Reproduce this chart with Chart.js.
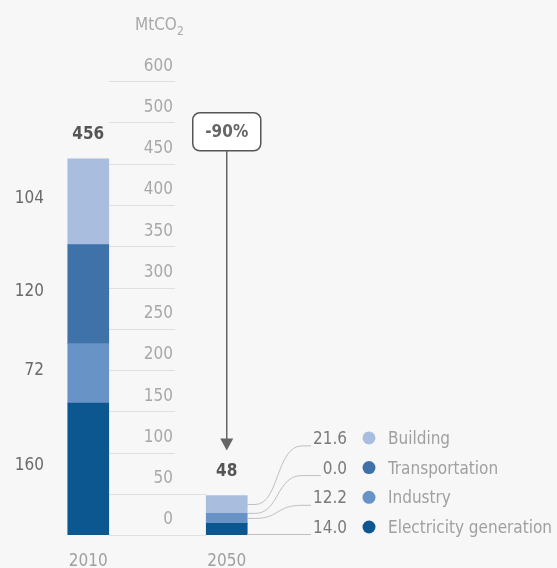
<!DOCTYPE html>
<html>
<head>
<meta charset="utf-8">
<script src="https://cdn.jsdelivr.net/npm/chart.js@4"></script>
<style>
  html, body { margin: 0; padding: 0; background: #f7f7f7; }
</style>
</head>
<body>
<canvas id="co2-chart" width="557" height="568"></canvas>
<script>
const years = ['2010', '2050'];
const sectors = ['Electricity generation', 'Industry', 'Transportation', 'Building'];
const electricity = [160, 14.0];
const industry = [72, 12.2];
const transportation = [120, 0.0];
const building = [104, 21.6];
const totals = ['456', '48'];
const yTicks = [0, 50, 100, 150, 200, 250, 300, 350, 400, 450, 500, 550];
const yTickLabels = ['0', '50', '100', '150', '200', '250', '300', '350', '400', '450', '500', '600'];
const changeLabel = '-90%';
const unitLabel = 'MtCO';

const colors = ['#0d5791', '#6893c6', '#3e72a9', '#a9bedf'];
const FONT = '"DejaVu Sans Condensed", "Liberation Sans Narrow", sans-serif';

function font(size, bold) {
  return (bold ? 'bold ' : '') + size + 'px ' + FONT;
}

const decor = {
  id: 'decor',
  beforeDatasetsDraw(chart) {
    const { ctx, scales: { y } } = chart;
    const bars = chart.getDatasetMeta(0).data;
    const x1 = bars[0].x + bars[0].width / 2;
    const x2 = bars[1].x - bars[1].width / 2;
    ctx.save();
    ctx.strokeStyle = '#e0e0e0';
    ctx.lineWidth = 1;
    yTicks.forEach(v => {
      const py = Math.round(y.getPixelForValue(v)) + 0.5;
      ctx.beginPath();
      ctx.moveTo(x1, py);
      ctx.lineTo(v <= 50 ? x2 : 175, py);
      ctx.stroke();
    });
    ctx.restore();
  },
  afterDatasetsDraw(chart) {
    const { ctx, scales: { x, y } } = chart;
    const y0 = y.getPixelForValue(0);
    ctx.save();

    // y tick labels sit above their grid lines
    ctx.font = font(17);
    ctx.fillStyle = '#a8a8a8';
    ctx.textAlign = 'right';
    ctx.textBaseline = 'middle';
    yTicks.forEach((v, i) => {
      ctx.fillText(yTickLabels[i], 173, y.getPixelForValue(v) - 15);
    });

    // unit
    ctx.textAlign = 'left';
    ctx.textBaseline = 'alphabetic';
    ctx.fillText(unitLabel, 135, 30);
    const uw = ctx.measureText(unitLabel).width;
    ctx.font = font(12);
    ctx.fillText('2', 135 + uw, 35);

    // x labels
    ctx.font = font(17);
    ctx.fillStyle = '#a0a0a0';
    ctx.textAlign = 'center';
    ctx.textBaseline = 'middle';
    years.forEach((yr, i) => ctx.fillText(yr, x.getPixelForValue(i), 562));

    // totals
    const top = chart.getDatasetMeta(3).data;
    ctx.font = font(17, true);
    ctx.fillStyle = '#555';
    totals.forEach((t, i) => ctx.fillText(t, top[i].x, top[i].y - 24));

    // values beside the 2010 bar
    ctx.font = font(17);
    ctx.fillStyle = '#6a6a6a';
    ctx.textAlign = 'right';
    chart.data.datasets.forEach((ds, d) => {
      const el = chart.getDatasetMeta(d).data[0];
      ctx.fillText(String(ds.data[0]), 44, (el.y + el.base) / 2 - 3);
    });

    // -90% box with arrow down to 2050
    const bx = top[1].x;
    const boxY = top[0].y - 27;
    ctx.font = font(17, true);
    const bw = 68, bh = 38;
    ctx.beginPath();
    ctx.roundRect(bx - bw / 2, boxY - bh / 2, bw, bh, 7);
    ctx.fillStyle = '#fff';
    ctx.fill();
    ctx.strokeStyle = '#555';
    ctx.lineWidth = 1.5;
    ctx.stroke();
    ctx.fillStyle = '#666';
    ctx.textAlign = 'center';
    ctx.fillText(changeLabel, bx, boxY + 1);

    const tipY = top[1].y - 45;
    ctx.strokeStyle = '#666';
    ctx.beginPath();
    ctx.moveTo(bx, boxY + bh / 2);
    ctx.lineTo(bx, tipY - 10);
    ctx.stroke();
    ctx.fillStyle = '#666';
    ctx.beginPath();
    ctx.moveTo(bx - 6.5, tipY - 12);
    ctx.lineTo(bx + 6.5, tipY - 12);
    ctx.lineTo(bx, tipY);
    ctx.closePath();
    ctx.fill();

    // legend rows for 2050, leader lines from the bar
    const numRight = 347;
    ctx.lineWidth = 1;
    chart.data.datasets.forEach((ds, d) => {
      const el = chart.getDatasetMeta(d).data[1];
      const rx = el.x + el.width / 2;
      const lineY = y0 - d * 29.7;
      const txt = ds.data[1].toFixed(1);
      ctx.font = font(17);
      const endX = numRight - ctx.measureText(txt).width - 2;
      ctx.strokeStyle = '#bfbfbf';
      ctx.beginPath();
      if (d === 0) {
        ctx.moveTo(rx, lineY - 0.5);
        ctx.lineTo(endX, lineY - 0.5);
      } else {
        const sy = (el.y + el.base) / 2;
        const cx = 302;
        ctx.moveTo(rx, sy);
        ctx.lineTo(rx + 8, sy);
        ctx.bezierCurveTo(rx + 32, sy, cx - 26, lineY, cx, lineY);
        ctx.lineTo(endX, lineY);
      }
      ctx.stroke();

      const base = lineY - 2;
      ctx.textBaseline = 'alphabetic';
      ctx.textAlign = 'right';
      ctx.fillStyle = '#7a7a7a';
      ctx.fillText(txt, numRight, base);
      ctx.beginPath();
      ctx.arc(369, base - 6, 6.5, 0, Math.PI * 2);
      ctx.fillStyle = colors[d];
      ctx.fill();
      ctx.textAlign = 'left';
      ctx.fillStyle = '#a0a0a0';
      ctx.fillText(ds.label, 388, base);
    });

    ctx.restore();
  }
};

const ctx = document.getElementById('co2-chart').getContext('2d');
const chart = new Chart(ctx, {
  type: 'bar',
  data: {
    labels: years,
    datasets: [
      { label: sectors[0], data: electricity, backgroundColor: colors[0] },
      { label: sectors[1], data: industry, backgroundColor: colors[1] },
      { label: sectors[2], data: transportation, backgroundColor: colors[2] },
      { label: sectors[3], data: building, backgroundColor: colors[3] }
    ]
  },
  options: {
    responsive: false,
    animation: false,
    barThickness: 41,
    layout: { padding: { left: 19, right: 261, top: 40, bottom: 33 } },
    plugins: { legend: { display: false }, tooltip: { enabled: false } },
    scales: {
      x: { display: false, stacked: true },
      y: { display: false, stacked: true, min: 0, max: 600 }
    }
  },
  plugins: [decor]
});
</script>
</body>
</html>
